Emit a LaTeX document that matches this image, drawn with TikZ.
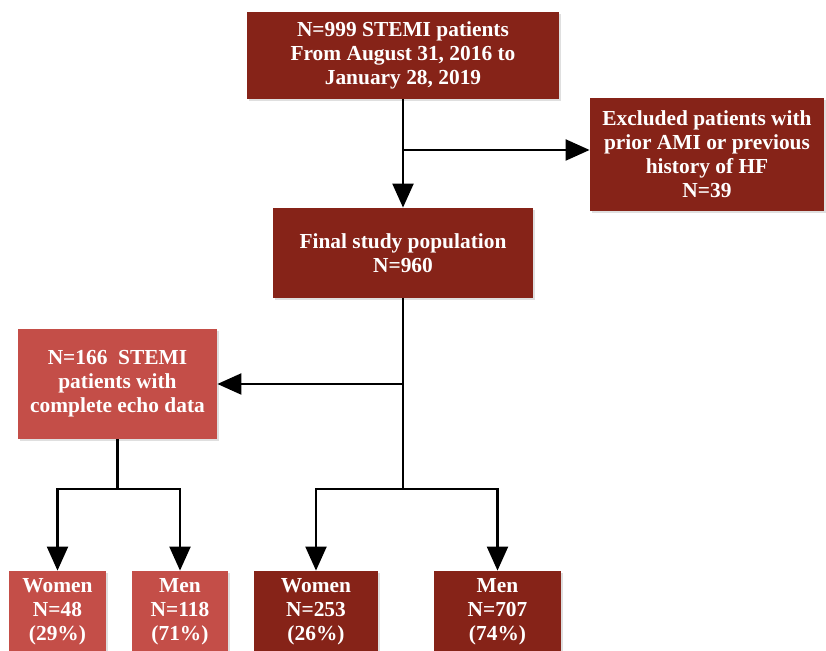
\documentclass[tikz,border=0pt]{standalone}
\usepackage{fontspec}
\setmainfont{Liberation Serif}
\usetikzlibrary{arrows.meta,shadows}

\definecolor{darkred}{RGB}{134,35,24}
\definecolor{lightred}{RGB}{196,78,72}

\tikzset{
    box/.style={rectangle, fill=darkred, text=white, align=center,
        font=\fontsize{10.7}{12}\selectfont\bfseries, inner sep=0pt,
        drop shadow={shadow xshift=0.8pt, shadow yshift=-0.8pt, opacity=0.25}},
    lightbox/.style={box, fill=lightred},
    arr/.style={-{Triangle[length=12pt,width=10.5pt]}, line width=1.1pt},
    link/.style={line width=1.1pt}
}

\begin{document}
\begin{tikzpicture}[x=0.5pt, y=-0.5pt]
        % Setup the frame
        \useasboundingbox (0,0) rectangle (826,651);

        % Main boxes
        \node[box, minimum width=156pt, minimum height=43.5pt] (start) at (403,55.5)
            {N=999 STEMI patients\\From August 31, 2016 to\\January 28, 2019};
        \node[box, minimum width=117pt, minimum height=56.5pt] (excl) at (707,154.5)
            {Excluded patients with\\prior AMI or previous\\history of HF\\N=39};
        \node[box, minimum width=130pt, minimum height=45pt] (final) at (403,253)
            {Final study population\\N=960};
        \node[lightbox, minimum width=99.5pt, minimum height=55pt] (echo) at (117.5,384)
            {N=166~~STEMI\\patients with\\complete echo data};

        % Subgroups
        \node[lightbox, minimum width=48.5pt, minimum height=41pt] (ewomen) at (57.5,612)
            {Women\\N=48\\(29\%)};
        \node[lightbox, minimum width=48pt, minimum height=41pt] (emen) at (180,612)
            {Men\\N=118\\(71\%)};
        \node[box, minimum width=62pt, minimum height=41pt] (women) at (316,612)
            {Women\\N=253\\(26\%)};
        \node[box, minimum width=63.5pt, minimum height=41pt] (men) at (497.5,612)
            {Men\\N=707\\(74\%)};

        % Exclusion
        \coordinate (split) at (403,150);
        \draw[arr] (start.south) -- (final.north);
        \draw[arr] (split) -- (split -| excl.west);

        % Echo branch
        \coordinate (hub) at (403,489);
        \draw[link] (final.south) -- (hub);
        \draw[arr] (final.south |- echo.east) -- (echo.east);

        % Sex split
        \draw[arr] (hub) -| (women.north);
        \draw[arr] (hub) -| (men.north);
        \coordinate (ehub) at (echo.south |- hub);
        \draw[link] (echo.south) -- (ehub);
        \draw[arr] (ehub) -| (ewomen.north);
        \draw[arr] (ehub) -| (emen.north);

    \end{tikzpicture}
\end{document}
